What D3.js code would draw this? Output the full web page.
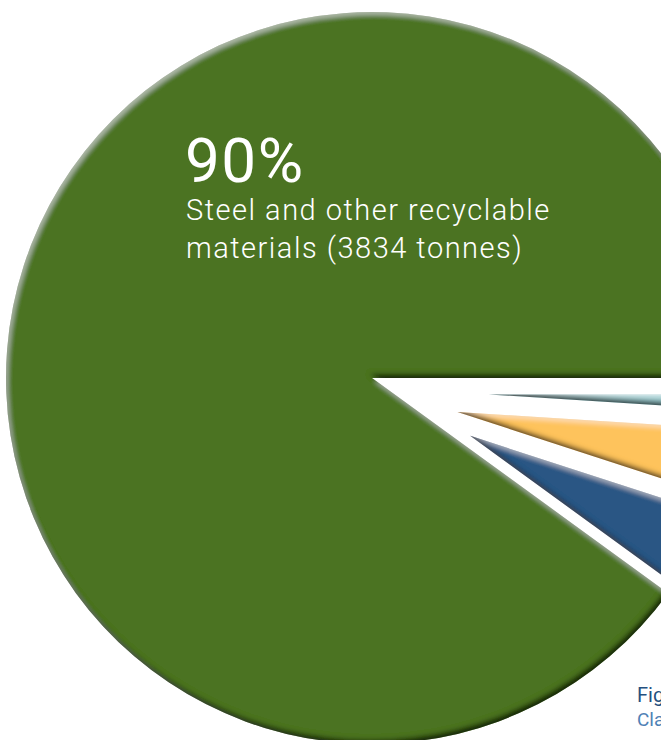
<!DOCTYPE html>
<html lang="en">
<head>
    <meta charset="UTF-8">
    <title>Waste breakdown pie</title>
    <script src="https://d3js.org/d3.v7.min.js"></script>
    <style>
        body { margin: 0; background: #fff; }
    </style>
</head>
<body>
    <svg width="661" height="740"></svg>

    <script>
        // Slice data (order: small slices first, then the big one)
        const categories = ["Other 1", "Other 2", "Other 3", "Steel and other recyclable materials"];
        const shares = [1, 4, 5, 90];
        const colors = ["#9fd0d4", "#fec35b", "#2c5784", "#4c7320"];
        const mainLabel = ["Steel and other recyclable", "materials (3834 tonnes)"];
        const captionLines = ["Figure", "Classification"];

        const width = 661;
        const height = 740;
        const cx = 372, cy = 378, radius = 366;

        // pulled-out slices: distance and direction (degrees below horizontal)
        const explode = [
            {dist: 118, deg: 8},
            {dist: 92, deg: 21.7},
            {dist: 114, deg: 30.5},
            {dist: 0, deg: 0}
        ];

        const svg = d3.select("svg")
            .attr("width", width)
            .attr("height", height);

        // bevel: light from the top-left, dark on the lower edges
        const defs = svg.append("defs");
        const f = defs.append("filter")
            .attr("id", "bevel")
            .attr("x", "-5%").attr("y", "-5%")
            .attr("width", "110%").attr("height", "110%");
        f.append("feGaussianBlur").attr("in", "SourceAlpha").attr("stdDeviation", 2.5).attr("result", "blur");
        f.append("feOffset").attr("in", "blur").attr("dx", 2).attr("dy", 3).attr("result", "down");
        f.append("feComposite").attr("in", "SourceAlpha").attr("in2", "down").attr("operator", "out").attr("result", "hiMask");
        f.append("feFlood").attr("flood-color", "#ffffff").attr("flood-opacity", 0.4);
        f.append("feComposite").attr("in2", "hiMask").attr("operator", "in").attr("result", "hi");
        f.append("feOffset").attr("in", "blur").attr("dx", -2).attr("dy", -4).attr("result", "up");
        f.append("feComposite").attr("in", "SourceAlpha").attr("in2", "up").attr("operator", "out").attr("result", "shMask");
        f.append("feFlood").attr("flood-color", "#000000").attr("flood-opacity", 0.9);
        f.append("feComposite").attr("in2", "shMask").attr("operator", "in").attr("result", "sh");
        const merge = f.append("feMerge");
        merge.append("feMergeNode").attr("in", "SourceGraphic");
        merge.append("feMergeNode").attr("in", "hi");
        merge.append("feMergeNode").attr("in", "sh");

        const pie = d3.pie()
            .sort(null)
            .startAngle(Math.PI / 2)
            .endAngle(Math.PI / 2 + 2 * Math.PI);

        const arc = d3.arc()
            .innerRadius(0)
            .outerRadius(radius);

        const arcs = pie(shares);

        const g = svg.append("g")
            .attr("transform", `translate(${cx},${cy})`);

        g.selectAll("path")
            .data(arcs)
            .enter()
            .append("path")
            .attr("d", arc)
            .attr("fill", (d, i) => colors[i])
            .attr("filter", "url(#bevel)")
            .attr("transform", (d, i) => {
                const a = explode[i].deg * Math.PI / 180;
                return `translate(${explode[i].dist * Math.cos(a)},${explode[i].dist * Math.sin(a)})`;
            });

        // big label on the green slice
        svg.append("text")
            .attr("x", 185)
            .attr("y", 182)
            .attr("fill", "#fff")
            .style("font-family", "Roboto, 'DejaVu Sans', sans-serif")
            .style("font-size", "62px")
            .style("font-weight", 400)
            .style("letter-spacing", "1.5px")
            .text(shares[3] + "%");

        svg.append("g")
            .selectAll("text")
            .data(mainLabel)
            .enter()
            .append("text")
            .attr("x", 186)
            .attr("y", (d, i) => 220 + i * 38)
            .attr("fill", "#fff")
            .style("font-family", "Roboto, 'DejaVu Sans', sans-serif")
            .style("font-size", "29px")
            .style("font-weight", 300)
            .style("letter-spacing", "1.5px")
            .text(d => d);

        // caption, cut off by the right edge as in the source
        svg.append("text")
            .attr("x", 637)
            .attr("y", 702)
            .attr("fill", "#24507f")
            .style("font-family", "Roboto, sans-serif")
            .style("font-size", "20px")
            .style("font-weight", 400)
            .text(captionLines[0]);

        svg.append("text")
            .attr("x", 637)
            .attr("y", 726)
            .attr("fill", "#4f82b6")
            .style("font-family", "Roboto, sans-serif")
            .style("font-size", "19px")
            .style("font-weight", 400)
            .text(captionLines[1]);
    </script>
</body>
</html>
